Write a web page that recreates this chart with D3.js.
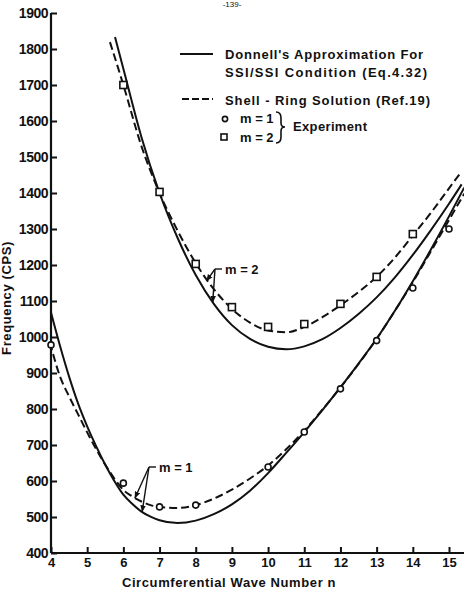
<!DOCTYPE html>
<html>
<head>
<meta charset="utf-8">
<script src="https://cdn.jsdelivr.net/npm/d3@7"></script>
<style>
  body { margin: 0; background: #fff; }
  svg { display: block; }
  text { font-family: "Liberation Sans", Arial, sans-serif; font-weight: bold; fill: #111; }
</style>
</head>
<body>
<div id="chart"></div>
<script>
// tick labels
var xTicks = [4, 5, 6, 7, 8, 9, 10, 11, 12, 13, 14, 15];
var yTicks = [400, 500, 600, 700, 800, 900, 1000, 1100, 1200, 1300, 1400, 1500, 1600, 1700, 1800, 1900];

// Donnell's approximation (solid) and shell-ring solution (dashed), [n, cps]
var donnellM2 = [[5.77,1833],[6,1745],[6.5,1555],[7,1400],[7.5,1275],[8,1172],[8.5,1092],[9,1033],[9.5,995],[10,973],[10.5,966],[11,974],[11.5,994],[12,1025],[12.5,1064],[13,1110],[13.5,1165],[14,1228],[14.5,1297],[15,1370],[15.35,1424]];
var shellM2 = [[5.63,1819],[6,1700],[6.5,1530],[7,1400],[7.5,1295],[8,1205],[8.5,1133],[9,1078],[9.5,1040],[10,1018],[10.5,1013],[11,1028],[11.5,1055],[12,1088],[12.5,1125],[13,1167],[13.5,1220],[14,1282],[14.5,1345],[15,1413],[15.35,1460]];
var donnellM1 = [[4,1068],[4.25,975],[4.5,890],[4.75,815],[5,752],[5.25,696],[5.5,645],[5.75,600],[6,562],[6.25,536],[6.5,515],[6.75,501],[7,491],[7.5,483],[8,490],[8.5,508],[9,535],[9.5,573],[10,622],[10.5,678],[11,736],[11.5,797],[12,860],[12.5,926],[13,995],[13.5,1072],[14,1155],[14.5,1243],[15,1335],[15.42,1415]];
var shellM1 = [[3.97,985],[4.25,890],[4.5,835],[4.75,785],[5,735],[5.25,688],[5.5,645],[5.75,607],[6,575],[6.25,557],[6.5,543],[6.75,533],[7,528],[7.5,525],[8,533],[8.5,551],[9,576],[9.5,607],[10,643],[10.5,688],[11,740],[11.5,798],[12,860],[12.5,925],[13,995],[13.5,1072],[14,1152],[14.5,1238],[15,1325],[15.42,1398]];

// experiment
var expM1 = [[4,978],[6,594],[7,528],[8,533],[10,639],[11,736],[12,856],[13,990],[14,1136],[15,1300]];
var expM2 = [[6,1700],[7,1403],[8,1203],[9,1083],[10,1028],[11,1036],[12,1092],[13,1167],[14,1286]];

var width = 464, height = 606;

var x = d3.scaleLinear().domain([4, 15]).range([51, 449]);
var y = d3.scaleLinear().domain([400, 1900]).range([553, 13]);

var svg = d3.select("#chart").append("svg")
    .attr("width", width)
    .attr("height", height);

var defs = svg.append("defs");
defs.append("marker")
    .attr("id", "arrow")
    .attr("viewBox", "0 0 10 10")
    .attr("refX", 9).attr("refY", 5)
    .attr("markerWidth", 5).attr("markerHeight", 5)
    .attr("orient", "auto")
  .append("path")
    .attr("d", "M0,1L10,5L0,9Z")
    .attr("fill", "#111");

// page number at the top edge
svg.append("text")
    .attr("x", 232).attr("y", 7)
    .attr("text-anchor", "middle")
    .style("font-size", "8px")
    .style("font-weight", "normal")
    .text("-139-");

// axes
var xAxis = d3.axisBottom(x).tickValues(xTicks).tickSize(-6).tickFormat(d3.format("d"));
var yAxis = d3.axisLeft(y).tickValues(yTicks).tickSize(-6).tickFormat(d3.format("d"));

var gx = svg.append("g")
    .attr("transform", "translate(0," + y(400) + ")")
    .call(xAxis);
gx.select(".domain").attr("d", "M" + x(4) + ",0H" + width);

var gy = svg.append("g")
    .attr("transform", "translate(" + x(4) + ",0)")
    .call(yAxis);
gy.select(".domain").attr("d", "M0," + y(1900) + "V" + y(400));

svg.selectAll(".domain").attr("stroke", "#111").attr("stroke-width", 2.2);
svg.selectAll(".tick line").attr("stroke", "#111").attr("stroke-width", 2);
gx.selectAll(".tick text")
    .attr("y", 5)
    .attr("dy", "0.71em")
    .style("font-size", "13px");
gy.selectAll(".tick text")
    .attr("x", -3)
    .style("font-size", "14px")
    .style("letter-spacing", "-0.5px");

// axis titles
svg.append("text")
    .attr("x", 229).attr("y", 587)
    .attr("text-anchor", "middle")
    .style("font-size", "13px")
    .style("letter-spacing", "0.6px")
    .text("Circumferential Wave Number  n");

svg.append("text")
    .attr("transform", "translate(11,298) rotate(-90)")
    .attr("text-anchor", "middle")
    .style("font-size", "13px")
    .style("letter-spacing", "0.6px")
    .text("Frequency (CPS)");

// curves
var line = d3.line()
    .x(function(d) { return x(d[0]); })
    .y(function(d) { return y(d[1]); })
    .curve(d3.curveMonotoneX);

var curves = [
  {data: donnellM2, dash: null},
  {data: shellM2, dash: "8,4"},
  {data: donnellM1, dash: null},
  {data: shellM1, dash: "8,4"}
];

svg.append("g").selectAll("path")
    .data(curves)
  .enter().append("path")
    .attr("d", function(d) { return line(d.data); })
    .attr("fill", "none")
    .attr("stroke", "#111")
    .attr("stroke-width", 2)
    .attr("stroke-dasharray", function(d) { return d.dash; });

// experiment points
svg.append("g").selectAll("circle")
    .data(expM1)
  .enter().append("circle")
    .attr("cx", function(d) { return x(d[0]); })
    .attr("cy", function(d) { return y(d[1]); })
    .attr("r", 3)
    .attr("fill", "#fff")
    .attr("stroke", "#111")
    .attr("stroke-width", 1.6);

svg.append("g").selectAll("rect")
    .data(expM2)
  .enter().append("rect")
    .attr("x", function(d) { return x(d[0]) - 3.5; })
    .attr("y", function(d) { return y(d[1]) - 3.5; })
    .attr("width", 7)
    .attr("height", 7)
    .attr("fill", "#fff")
    .attr("stroke", "#111")
    .attr("stroke-width", 1.6);

// m labels with leaders
function leader(lx, ly, targets, label) {
  var g = svg.append("g");
  g.append("path")
    .attr("d", "M" + (lx - 2) + "," + ly + "H" + (lx - 9))
    .attr("stroke", "#111").attr("stroke-width", 1.4);
  targets.forEach(function(t) {
    g.append("line")
      .attr("x1", lx - 9).attr("y1", ly)
      .attr("x2", x(t[0])).attr("y2", y(t[1]))
      .attr("stroke", "#111").attr("stroke-width", 1.4)
      .attr("marker-end", "url(#arrow)");
  });
  g.append("text")
    .attr("x", lx + 1).attr("y", ly + 5)
    .style("font-size", "13px")
    .text(label);
}
leader(224, 269, [[8.3, 1156], [8.47, 1097]], "m = 2");
leader(158, 467, [[6.32, 553], [6.52, 515]], "m = 1");

// legend
var lg = svg.append("g");
lg.append("line").attr("x1", 180).attr("x2", 213).attr("y1", 54).attr("y2", 54)
    .attr("stroke", "#111").attr("stroke-width", 2);
lg.append("line").attr("x1", 182).attr("x2", 213).attr("y1", 99).attr("y2", 99)
    .attr("stroke", "#111").attr("stroke-width", 2).attr("stroke-dasharray", "7,3");
lg.append("circle").attr("cx", 225).attr("cy", 119).attr("r", 2.6)
    .attr("fill", "#fff").attr("stroke", "#111").attr("stroke-width", 1.6);
lg.append("rect").attr("x", 221).attr("y", 134).attr("width", 6).attr("height", 6)
    .attr("fill", "#fff").attr("stroke", "#111").attr("stroke-width", 1.6);

var legendText = [
  {x: 225, y: 59, t: "Donnell's Approximation For", w: 198},
  {x: 225, y: 77, t: "SSI/SSI Condition (Eq.4.32)", w: 202},
  {x: 225, y: 105, t: "Shell - Ring  Solution (Ref.19)", w: 205},
  {x: 240, y: 123, t: "m = 1", w: 0},
  {x: 240, y: 142, t: "m = 2", w: 0},
  {x: 293, y: 131, t: "Experiment", w: 74}
];
lg.selectAll("text.leg")
    .data(legendText)
  .enter().append("text")
    .attr("class", "leg")
    .attr("x", function(d) { return d.x; })
    .attr("y", function(d) { return d.y; })
    .attr("textLength", function(d) { return d.w || null; })
    .style("font-size", "13px")
    .text(function(d) { return d.t; });

// brace
lg.append("path")
    .attr("d", "M276,112 Q281,112 281,118 L281,123 Q281,127 285,127 Q281,127 281,131 L281,137 Q281,143 276,143")
    .attr("fill", "none").attr("stroke", "#111").attr("stroke-width", 1.6);
</script>
</body>
</html>
